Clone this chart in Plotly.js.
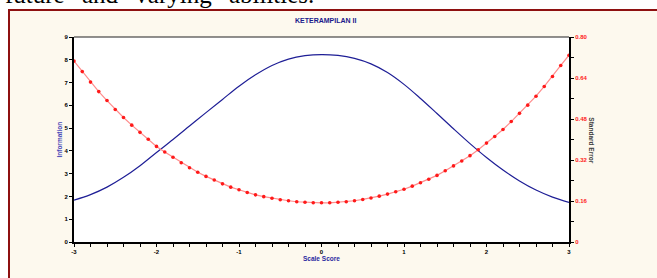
<!DOCTYPE html>
<html>
<head>
<meta charset="utf-8">
<script src="https://cdn.plot.ly/plotly-3.0.1.min.js"></script>
<style>
  html, body { margin:0; padding:0; background:#ffffff; overflow:hidden; width:657px; height:278px; }
  #topText { position:absolute; left:5px; top:-18px; font-family:"Liberation Serif","Times New Roman",serif; font-size:25px; line-height:25px; word-spacing:11px; white-space:nowrap; color:#000; }
  #box { position:absolute; left:8px; top:9px; width:700px; height:320px; background:#FDF9EE; border-left:2px solid #8E1010; border-top:2px solid #8E1010; box-sizing:border-box; }
  #chart { position:absolute; left:0; top:0; width:657px; height:278px; }
</style>
</head>
<body>
<div id="topText">future and varying abilities.</div>
<div id="box"></div>
<div id="chart"></div>
<script>
// Information function (left axis), sampled every 0.2 on the scale score
const infoScore = [-3.0,-2.8,-2.6,-2.4,-2.2,-2.0,-1.8,-1.6,-1.4,-1.2,-1.0,-0.8,-0.6,-0.4,-0.2,0.0,
                   0.2,0.4,0.6,0.8,1.0,1.2,1.4,1.6,1.8,2.0,2.2,2.4,2.6,2.8,3.0];
const infoValues = [1.84,2.08,2.41,2.84,3.35,3.93,4.50,5.09,5.68,6.26,6.84,7.34,7.75,8.03,8.18,8.23,
                    8.19,8.06,7.82,7.44,6.92,6.30,5.64,4.97,4.32,3.71,3.16,2.68,2.28,1.97,1.74];

// Standard error (right axis), points every 0.1
const seScore = [-3.0,-2.9,-2.8,-2.7,-2.6,-2.5,-2.4,-2.3,-2.2,-2.1,-2.0,-1.9,-1.8,-1.7,-1.6,-1.5,
                 -1.4,-1.3,-1.2,-1.1,-1.0,-0.9,-0.8,-0.7,-0.6,-0.5,-0.4,-0.3,-0.2,-0.1,0.0,
                 0.1,0.2,0.3,0.4,0.5,0.6,0.7,0.8,0.9,1.0,1.1,1.2,1.3,1.4,1.5,1.6,1.7,1.8,1.9,2.0,
                 2.1,2.2,2.3,2.4,2.5,2.6,2.7,2.8,2.9,3.0];
const seValues = [0.706,0.665,0.624,0.587,0.552,0.517,0.486,0.456,0.428,0.401,0.373,0.351,0.331,0.309,0.290,0.272,
                  0.256,0.242,0.227,0.214,0.204,0.193,0.184,0.177,0.171,0.165,0.161,0.157,0.155,0.153,0.153,
                  0.153,0.155,0.157,0.161,0.166,0.172,0.179,0.187,0.196,0.206,0.218,0.231,0.245,0.260,0.278,
                  0.297,0.316,0.337,0.360,0.386,0.412,0.439,0.470,0.502,0.534,0.569,0.607,0.646,0.689,0.729];

const xTicks = [-3,-2,-1,0,1,2,3];
const xTickText = ['-3','-2','-1','0','1','2','3'];
const yTicks = [0,1,2,3,4,5,6,7,8,9];
const y2Ticks = [0,0.16,0.32,0.48,0.64,0.80];
const y2TickText = ['0','0.16','0.32','0.48','0.64','0.80'];

const chartTitle = 'KETERAMPILAN II';
const xTitle = 'Scale Score';
const yTitle = 'Information';
const y2Title = 'Standard Error';

const tickFont = {family:'Liberation Sans, Arial, sans-serif', size:6, color:'#000000', weight:'bold'};

const traces = [
  {x: infoScore, y: infoValues, type:'scatter', mode:'lines',
   line:{color:'#1E1E96', width:1.2, shape:'spline', smoothing:1}, yaxis:'y', hoverinfo:'skip'},
  {x: seScore, y: seValues, type:'scatter', mode:'lines+markers',
   line:{color:'#FF8C8C', width:1.2}, marker:{color:'#FF1A1A', size:3.6}, yaxis:'y2', hoverinfo:'skip'}
];

const L = 74, R = 569.3, T = 36.5, B = 242.4, W = 657, H = 278;
const px = v => (v - L) / (R - L);
const py = v => (B - v) / (B - T);

const layout = {
  width: W, height: H,
  margin: {l: L, r: W - R, t: T, b: H - B, pad: 0},
  paper_bgcolor: 'rgba(0,0,0,0)',
  plot_bgcolor: '#ffffff',
  showlegend: false,
  xaxis: {range:[-3,3], tickvals:xTicks, ticktext:xTickText, ticks:'outside', ticklen:3, tickwidth:1,
          tickcolor:'#000', showline:true, linewidth:2, linecolor:'#000', showgrid:false, zeroline:false,
          tickfont:tickFont, ticklabelstandoff:0,
          minor:{dtick:0.2, tick0:-3, ticks:'outside', ticklen:3, tickwidth:1, tickcolor:'#000', showgrid:false}},
  yaxis: {range:[0,9], tickvals:yTicks, ticks:'outside', ticklen:3, tickwidth:1, tickcolor:'#000',
          showline:true, linewidth:2, linecolor:'#000', showgrid:false, zeroline:false, tickfont:tickFont},
  yaxis2: {range:[0,0.8], overlaying:'y', side:'right', tickvals:y2Ticks, ticktext:y2TickText, ticks:'outside',
           ticklen:3, tickwidth:1, tickcolor:'#000', showline:true, linewidth:2, linecolor:'#000',
           showgrid:false, zeroline:false, tickfont:Object.assign({}, tickFont, {color:'#FF2020'}),
           minor:{dtick:0.08, tick0:0, ticks:'outside', ticklen:3, tickwidth:1, tickcolor:'#000', showgrid:false}},
  shapes: [
    {type:'line', xref:'paper', yref:'paper', x0:0, x1:1, y0:1, y1:1, line:{color:'#222', width:1.2}}
  ],
  annotations: [
    {text:chartTitle, xref:'paper', yref:'paper', x:px(326), y:py(19.5), xanchor:'center', yanchor:'middle',
     showarrow:false, font:{family:'Liberation Sans, Arial, sans-serif', size:7, color:'#1A1A8C', weight:'bold'}},
    {text:xTitle, xref:'paper', yref:'paper', x:px(321.3), y:py(259), xanchor:'center', yanchor:'middle',
     showarrow:false, font:{family:'Liberation Sans, Arial, sans-serif', size:6.5, color:'#2A2AA0', weight:'bold'}},
    {text:yTitle, xref:'paper', yref:'paper', x:px(59.5), y:py(140), xanchor:'center', yanchor:'middle',
     textangle:-90, showarrow:false, font:{family:'Liberation Sans, Arial, sans-serif', size:6.5, color:'#4A4AB8', weight:'bold'}},
    {text:y2Title, xref:'paper', yref:'paper', x:px(592), y:py(140), xanchor:'center', yanchor:'middle',
     textangle:90, showarrow:false, font:{family:'Liberation Sans, Arial, sans-serif', size:6.5, color:'#404040', weight:'bold'}}
  ]
};

Plotly.newPlot('chart', traces, layout, {staticPlot:true, displayModeBar:false});
</script>
</body>
</html>
